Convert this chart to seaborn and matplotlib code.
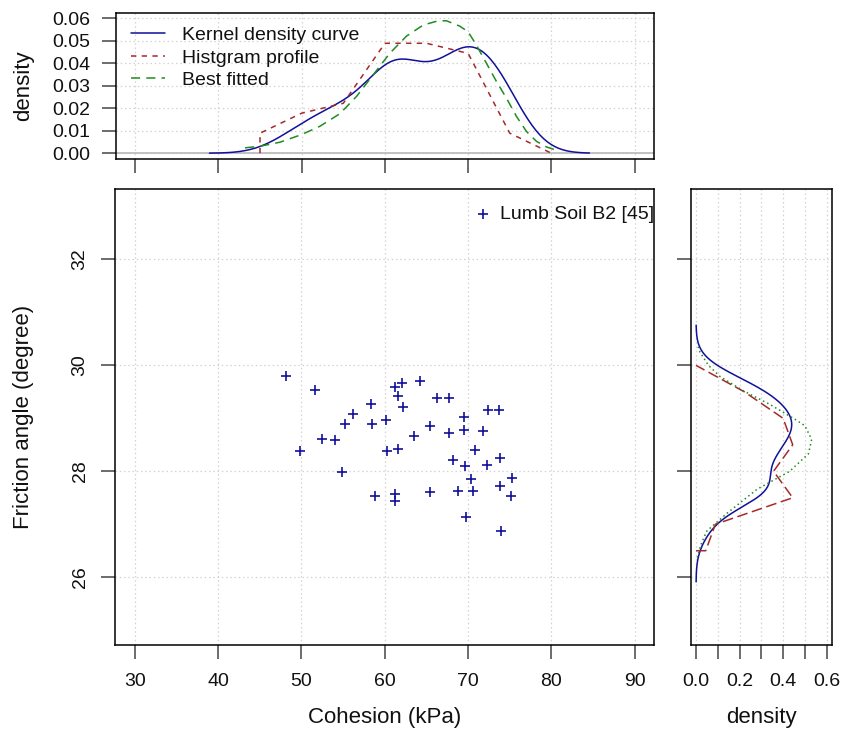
import numpy as np
import pandas as pd
import matplotlib
matplotlib.use("Agg")
import matplotlib.pyplot as plt
from matplotlib.lines import Line2D
import seaborn as sns

# ---------------- data ----------------
cohesion = [48.2, 51.6, 49.9, 52.5, 54.0, 55.2, 56.2, 54.9, 58.4, 58.5,
            58.9, 60.2, 60.3, 61.2, 62.1, 61.6, 62.2, 61.6, 61.3, 61.3,
            63.5, 64.3, 65.4, 65.4, 66.3, 67.7, 67.7, 68.2, 68.8, 69.5,
            69.5, 69.6, 69.8, 70.4, 70.6, 70.9, 71.8, 72.3, 72.4, 73.7,
            73.8, 73.8, 74.0, 75.3, 75.2]
friction = [29.80, 29.54, 28.39, 28.61, 28.59, 28.90, 29.08, 27.99, 29.27, 28.90,
            27.53, 28.96, 28.38, 29.59, 29.66, 29.42, 29.22, 28.42, 27.58, 27.44,
            28.66, 29.70, 28.85, 27.61, 29.38, 29.38, 28.73, 28.21, 27.63, 29.03,
            28.78, 28.10, 27.13, 27.86, 27.63, 28.40, 28.77, 28.11, 29.16, 29.16,
            28.25, 27.73, 26.87, 27.87, 27.54]

# histogram profiles (value at the left edge of each bin)
hist_c_x = [45, 45, 50, 55, 60, 65, 70, 75, 80]
hist_c_d = [0.0, 0.0089, 0.0178, 0.0222, 0.0489, 0.0489, 0.0444, 0.0089, 0.0]
hist_f_y = [26.5, 26.5, 27.0, 27.5, 28.0, 28.5, 29.0, 29.5, 30.0]
hist_f_d = [0.0, 0.0444, 0.0889, 0.444, 0.356, 0.444, 0.400, 0.222, 0.0]

# best fitted curves
fit_c_x = [43.2, 45.0, 47.4, 50.0, 52.2, 54.6, 56.6, 58.6, 60.6, 62.6, 64.6, 66.4,
           67.4, 69.0, 70.0, 71.0, 72.2, 73.4, 74.6, 75.8, 77.0, 78.2, 79.4, 80.4]
fit_c_d = [0.0024, 0.0031, 0.0049, 0.0083, 0.0120, 0.0176, 0.0253, 0.0349, 0.0445,
           0.0521, 0.0570, 0.0589, 0.0589, 0.0565, 0.0540, 0.0480, 0.0400, 0.0319,
           0.0245, 0.0164, 0.0097, 0.0053, 0.0028, 0.0016]
fit_f_y = [26.37, 26.6, 26.87, 27.2, 27.66, 28.0, 28.33, 28.6, 28.86, 29.0,
           29.26, 29.52, 29.79, 30.0, 30.25, 30.35]
fit_f_d = [0.006, 0.021, 0.049, 0.140, 0.280, 0.430, 0.516, 0.531, 0.500, 0.447,
           0.340, 0.217, 0.110, 0.057, 0.018, 0.010]

x_ticks = [30, 40, 50, 60, 70, 80, 90]
y_ticks = [26, 28, 30, 32]
top_yticks = [0.00, 0.01, 0.02, 0.03, 0.04, 0.05, 0.06]
right_xticks = [0.0, 0.1, 0.2, 0.3, 0.4, 0.5, 0.6]
right_xlabels = ["0.0", "", "0.2", "", "0.4", "", "0.6"]

legend_labels = ["Kernel density curve", "Histgram profile", "Best fitted"]
scatter_label = "Lumb Soil B2 [45]"

# ---------------- style ----------------
sns.set_style("white")
plt.rcParams["font.family"] = ["Liberation Sans", "DejaVu Sans"]
plt.rcParams["text.color"] = "#111111"
plt.rcParams["axes.labelcolor"] = "#111111"
BLUE = "#10109a"
RED = "#a52a2a"
GREEN = "#228b22"
GRID = dict(color="#d3d3d3", linestyle=(0, (1.2, 2.2)), linewidth=0.9)
TICKFS = 14
LABFS = 16

df = pd.DataFrame({"c": cohesion, "f": friction})


def r_bw_adjust(v):
    v = np.asarray(v)
    sd = v.std(ddof=1)
    iqr = np.subtract(*np.percentile(v, [75, 25]))
    return 0.9 * min(sd, iqr / 1.34) / sd


fig = plt.figure(figsize=(8.54, 7.30), dpi=100)
W, H = 854, 730


def axes_px(l, t, r, b):
    return fig.add_axes([l / W, (H - b) / H, (r - l) / W, (b - t) / H])


ax_top = axes_px(115.5, 12.7, 654.3, 158.5)
ax_main = axes_px(115.0, 189.0, 654.3, 645.0)
ax_right = axes_px(690.7, 189.0, 831.7, 645.0)

XLIM = (27.64, 92.36)
YLIM = (24.72, 33.33)

for ax in (ax_top, ax_main, ax_right):
    for s in ax.spines.values():
        s.set_color("black")
        s.set_linewidth(1.1)
    ax.tick_params(direction="out", length=10, width=1.1, color="#444444",
                   labelsize=TICKFS, labelcolor="#111111", pad=8.0,
                   bottom=True, left=True)
    ax.tick_params(axis="x", pad=10)
    ax.set_axisbelow(True)

# ---------------- main scatter ----------------
sns.scatterplot(data=df, x="c", y="f", marker="+", color=BLUE, s=50,
                linewidth=1.2, ax=ax_main, label=scatter_label, zorder=3)
ax_main.set_xlim(*XLIM)
ax_main.set_ylim(*YLIM)
ax_main.set_xticks(x_ticks)
ax_main.set_yticks(y_ticks)
ax_main.grid(True, **GRID)
plt.setp(ax_main.get_yticklabels(), rotation=90, va="center")
ax_main.tick_params(axis="y", pad=9)
ax_main.set_xlabel("Cohesion (kPa)", fontsize=LABFS)
ax_main.set_ylabel("Friction angle (degree)", fontsize=LABFS)
ax_main.xaxis.set_label_coords(0.5, -0.135)
ax_main.yaxis.set_label_coords(-0.150, 0.5)
leg = ax_main.legend(loc="upper right", bbox_to_anchor=(1.0, 0.964), frameon=False,
                     fontsize=14, handlelength=0.8, handletextpad=0.5,
                     borderpad=0.0, borderaxespad=0.0)

# ---------------- top density ----------------
ax_top.axhline(0, color="#bdbdbd", linewidth=1.3, zorder=1)
sns.kdeplot(x=cohesion, bw_adjust=r_bw_adjust(cohesion), cut=3, color=BLUE,
            linewidth=1.1, ax=ax_top, zorder=3)
sns.lineplot(x=hist_c_x, y=hist_c_d, sort=False, estimator=None, color=RED,
             linewidth=1.1, ax=ax_top, zorder=3)
ax_top.lines[-1].set_linestyle((0, (3.5, 3.5)))
sns.lineplot(x=fit_c_x, y=fit_c_d, sort=False, estimator=None, color=GREEN,
             linewidth=1.1, ax=ax_top, zorder=3)
ax_top.lines[-1].set_linestyle((0, (6, 4)))
ax_top.set_xlim(*XLIM)
ax_top.set_ylim(-0.00235, 0.0625)
ax_top.set_xticks(x_ticks)
ax_top.set_xticklabels([])
ax_top.set_yticks(top_yticks)
ax_top.set_yticklabels([f"{v:.2f}" for v in top_yticks])
ax_top.grid(True, **GRID)
ax_top.set_xlabel("")
ax_top.set_ylabel("density", fontsize=LABFS)
ax_top.yaxis.set_label_coords(-0.151, 0.5)
handles = [Line2D([], [], color=BLUE, lw=1.1),
           Line2D([], [], color=RED, lw=1.1, linestyle=(0, (3.5, 3.5))),
           Line2D([], [], color=GREEN, lw=1.1, linestyle=(0, (6, 4)))]
ax_top.legend(handles, legend_labels, loc="upper left", bbox_to_anchor=(0.0288, 0.905),
              frameon=False, fontsize=14, handlelength=1.75, handletextpad=0.85,
              labelspacing=0.25, borderpad=0.0, borderaxespad=0.0)

# ---------------- right density ----------------
sns.kdeplot(y=friction, bw_adjust=r_bw_adjust(friction), cut=3, color=BLUE,
            linewidth=1.1, ax=ax_right, zorder=3)
sns.lineplot(x=hist_f_d, y=hist_f_y, sort=False, estimator=None, color=RED,
             linewidth=1.1, ax=ax_right, zorder=3)
ax_right.lines[-1].set_linestyle((0, (7, 3)))
sns.lineplot(x=fit_f_d, y=fit_f_y, sort=False, estimator=None, color=GREEN,
             linewidth=1.1, ax=ax_right, zorder=3)
ax_right.lines[-1].set_linestyle((0, (1, 2)))
ax_right.set_xlim(-0.0245, 0.623)
ax_right.set_ylim(*YLIM)
ax_right.set_yticks(y_ticks)
ax_right.set_yticklabels([])
ax_right.set_xticks(right_xticks)
ax_right.set_xticklabels(right_xlabels)
ax_right.grid(True, **GRID)
ax_right.set_ylabel("")
ax_right.set_xlabel("density", fontsize=LABFS)
ax_right.xaxis.set_label_coords(0.5, -0.137)

fig.savefig("out.png", dpi=100)
